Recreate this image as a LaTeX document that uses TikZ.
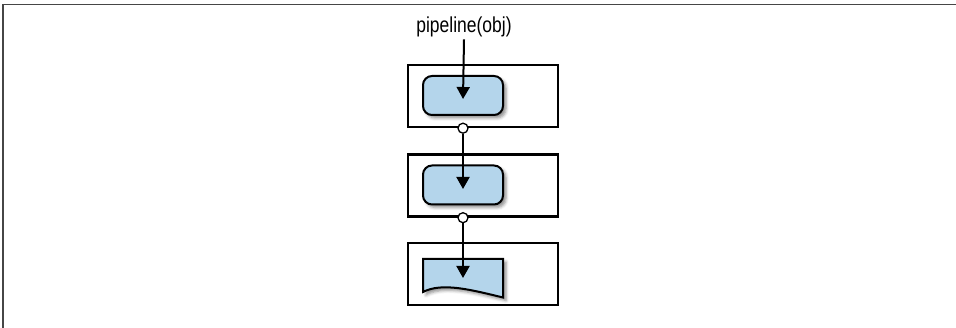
\documentclass[tikz,border=0pt]{standalone}
\usepackage{fontspec}
\setmainfont{Liberation Sans}
\usetikzlibrary{shadows.blur,arrows.meta}
\definecolor{fillblue}{RGB}{180,213,235}
\definecolor{framegray}{RGB}{70,70,70}
\tikzset{
  outerbox/.style={draw=black,line width=2.4pt,minimum width=150pt,minimum height=62pt,inner sep=0pt},
  innerbox/.style={draw=black,fill=fillblue,line width=2pt,rounded corners=9pt,minimum width=80pt,minimum height=39pt,inner sep=0pt,
    blur shadow={shadow xshift=3pt,shadow yshift=-3pt,shadow blur radius=3pt,shadow opacity=45}},
  docshape/.style={draw=black,fill=fillblue,line width=2pt,line join=miter,
    blur shadow={shadow xshift=3pt,shadow yshift=-3pt,shadow blur radius=3pt,shadow opacity=45}},
  conn/.style={draw=black,line width=2pt,-{Triangle[width=13pt,length=12pt]}},
  joint/.style={circle,draw=black,fill=white,line width=1.3pt,minimum size=10pt,inner sep=0pt},
  lbl/.style={font=\fontsize{19}{21}\selectfont,inner sep=2pt}
}
\begin{document}
\begin{tikzpicture}[x=1pt,y=-1pt]
\useasboundingbox (0,0) rectangle (956,328);
\draw[framegray,line width=1.6pt] (3.2,328) -- (3.2,4.6) -- (956,4.6);
% outer boxes
\node[outerbox] (b1) at (483,96) {};
\node[outerbox] (b2) at (483,185.5) {};
\node[outerbox] (b3) at (483,274) {};
% inner shapes
\node[innerbox] (i1) at (463,95.5) {};
\node[innerbox] (i2) at (463,185) {};
\path[docshape] (423,259) -- (503,259) -- (503,297.5) .. controls (472,290) and (442,282) .. (423,292) -- cycle;
% label
\node[lbl] (label) at (464,27) {\scalebox{0.92}[1.14]{pipeline(obj)}};
% targets
\coordinate (t1) at (463,99);
\coordinate (t2) at (463,189);
\coordinate (t3) at (463,278);
% joints
\node[joint] (c1) at (b1.south -| i1) {};
\node[joint] (c2) at (b2.south -| i2) {};
% connectors
\draw[conn] (label.south) -- (t1);
\draw[conn] (c1.south) -- (t2);
\draw[conn] (c2.south) -- (t3);
\end{tikzpicture}
\end{document}
